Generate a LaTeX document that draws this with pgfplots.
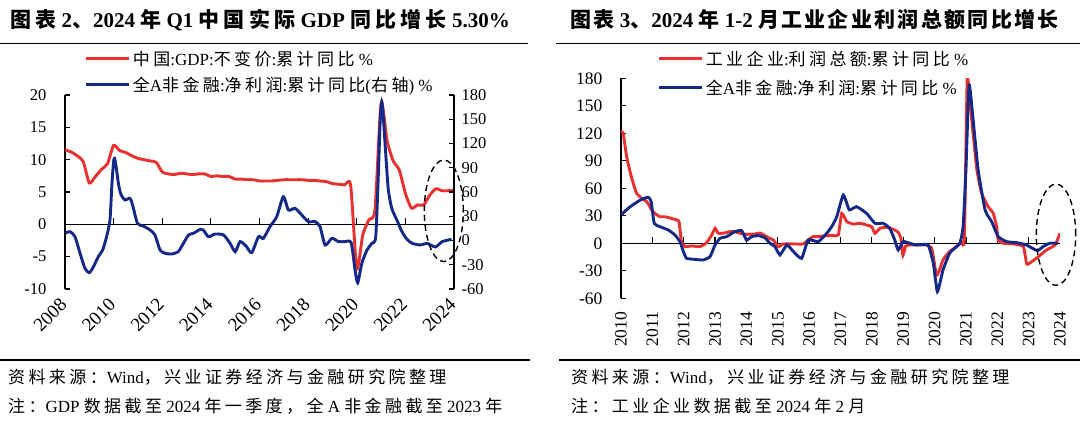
\documentclass[border=0pt]{standalone}
\usepackage{pgfplots}
\pgfplotsset{compat=1.18}
\usepackage{pgfplotstable}
\usepackage{fontspec}
\setmainfont{Liberation Serif}
\newfontfamily\cjk[LetterSpace=20]{Noto Sans CJK SC}
\newfontfamily\cjkt[LetterSpace=11]{Noto Sans CJK SC}
\definecolor{cred}{RGB}{232,48,46}
\definecolor{cblue}{RGB}{20,40,135}

% Left chart: China GDP cumulative y/y (left axis)
\pgfplotstableread{
x y
2008.00 11.5
2008.25 11.2
2008.50 10.6
2008.75 9.7
2009.00 6.4
2009.25 7.4
2009.50 8.5
2009.75 9.4
2010.00 12.2
2010.25 11.4
2010.50 11.1
2010.75 10.6
2011.00 10.2
2011.25 10.0
2011.50 9.8
2011.75 9.6
2012.00 8.1
2012.25 7.8
2012.50 7.7
2012.75 7.9
2013.00 7.8
2013.25 7.7
2013.50 7.8
2013.75 7.8
2014.00 7.4
2014.25 7.5
2014.50 7.4
2014.75 7.4
2015.00 7.0
2015.25 7.0
2015.50 6.9
2015.75 6.9
2016.00 6.7
2016.25 6.7
2016.50 6.7
2016.75 6.8
2017.00 6.9
2017.25 6.9
2017.50 6.9
2017.75 6.9
2018.00 6.8
2018.25 6.8
2018.50 6.7
2018.75 6.6
2019.00 6.3
2019.25 6.2
2019.50 6.1
2019.75 6.0
2020.00 -6.8
2020.25 -1.6
2020.50 0.7
2020.75 2.3
2021.00 18.7
2021.25 12.9
2021.50 9.8
2021.75 8.4
2022.00 4.8
2022.25 2.5
2022.50 3.0
2022.75 3.0
2023.00 4.5
2023.25 5.5
2023.50 5.2
2023.75 5.2
2024.00 5.3
}\gdpdata

% Left chart: all-A non-financial net profit cumulative y/y (right axis)
\pgfplotstableread{
x y
2008.00 8.9
2008.21 10.9
2008.41 4.7
2008.62 -15.9
2008.82 -34.4
2009.00 -39.8
2009.17 -32.4
2009.37 -20
2009.55 -11.8
2009.71 4.7
2009.85 25.4
2009.93 70
2010.00 98
2010.04 101.6
2010.10 92
2010.20 70
2010.30 57
2010.47 50.1
2010.67 52.2
2010.78 43.9
2010.98 21.2
2011.22 17.9
2011.50 13
2011.70 6.8
2011.91 -11.8
2012.12 -15.9
2012.39 -16.7
2012.66 -13.8
2012.87 -3.5
2013.08 6.8
2013.28 8.9
2013.56 13.8
2013.69 13
2013.90 4.7
2014.17 8
2014.52 6.8
2014.79 -3.5
2015.00 -13.8
2015.20 -1.4
2015.45 -7
2015.68 -15
2015.96 4.7
2016.16 2.7
2016.43 17.1
2016.71 29.5
2016.98 54.2
2017.19 37.7
2017.46 39.8
2017.74 31.5
2018.01 23.3
2018.29 23.3
2018.49 17.1
2018.70 -5.6
2018.98 2.7
2019.25 -1.4
2019.52 -1.4
2019.77 -2.7
2019.93 -36.5
2020.04 -52.2
2020.21 -28.2
2020.42 -11.8
2020.62 -3.5
2020.78 4.7
2020.89 83
2020.96 145
2021.03 171.8
2021.10 149
2021.20 103.7
2021.30 62.5
2021.44 39.8
2021.65 25.4
2021.86 10.9
2022.07 1.4
2022.28 -3.5
2022.62 -5.6
2022.89 -3.5
2023.23 -8
2023.51 -1.4
2023.65 -0.2
2023.90 1.5
}\nfadata

% Right chart: industrial enterprises profit cumulative y/y
\pgfplotstableread{
x y
2010.00 121.8
2010.07 120
2010.18 94.5
2010.29 78
2010.39 65.5
2010.50 54.5
2010.66 49
2010.82 45.5
2010.98 36.4
2011.08 32.7
2011.24 29
2011.40 29
2011.60 27.3
2011.77 25.5
2011.85 23.6
2011.93 1.8
2012.04 -3.6
2012.25 -2.9
2012.52 -3.6
2012.73 0.7
2012.89 9
2013.00 16.4
2013.10 11
2013.26 11
2013.47 12.7
2013.63 12.7
2013.79 11
2014.00 9.8
2014.27 10.2
2014.43 11.2
2014.59 8.4
2014.70 6
2014.86 3.6
2015.02 -3.6
2015.18 -0.7
2015.50 -0.7
2015.81 -0.7
2015.97 3.6
2016.13 7.3
2016.35 7.3
2016.56 8.4
2016.77 8.4
2016.93 9.1
2017.04 32.7
2017.20 23.6
2017.41 21
2017.62 21.8
2017.83 20
2017.99 18.2
2018.10 10.9
2018.26 16.4
2018.47 17.5
2018.68 15.3
2018.84 12
2018.93 5
2018.99 -13
2019.08 -2.9
2019.21 -1.8
2019.42 -1.8
2019.73 -1.8
2019.90 -5
2019.96 -14.5
2020.06 -35
2020.16 -29
2020.27 -18
2020.48 -9
2020.70 -3.6
2020.85 1.8
2020.95 5
2021.04 178.9
2021.13 152.7
2021.24 116
2021.35 80
2021.50 54.5
2021.71 40
2021.87 32.7
2021.98 18.2
2022.03 3.6
2022.19 0
2022.51 -0.7
2022.83 -3.6
2022.94 -22.6
2023.10 -20
2023.31 -14.6
2023.57 -7.3
2023.84 -1.9
2024.00 10.9
}\inddata

% Right chart: all-A non-financial net profit cumulative y/y
\pgfplotstableread{
x y
2010.00 30.9
2010.23 38.2
2010.45 43.6
2010.66 48
2010.87 50.2
2010.96 45.5
2011.06 21.8
2011.24 18.2
2011.51 14.5
2011.72 9.1
2011.88 1.8
2011.99 -9.1
2012.09 -16.4
2012.36 -17.5
2012.62 -18.2
2012.84 -14.5
2013.00 -1.8
2013.16 5.5
2013.37 7.3
2013.63 12.7
2013.85 13.8
2014.00 3.6
2014.17 7.3
2014.38 8.4
2014.59 6
2014.75 0
2014.91 -3.6
2015.07 -12.7
2015.29 -1.8
2015.50 -9.1
2015.76 -16.4
2015.97 3.6
2016.29 1.8
2016.56 10.9
2016.72 18.2
2016.88 29
2017.09 52.7
2017.28 36.4
2017.51 40
2017.83 32.7
2018.10 21.8
2018.36 21.8
2018.57 16.4
2018.73 3.6
2018.84 -7.3
2019.00 1.8
2019.21 0
2019.42 -1.8
2019.79 -1.8
2019.96 -21.8
2020.09 -52.7
2020.27 -29
2020.48 -10.9
2020.70 -3.6
2020.81 0
2020.91 18.2
2021.00 80
2021.10 172.7
2021.23 134.5
2021.39 80
2021.61 36.4
2021.82 23.6
2022.03 7.3
2022.30 1.8
2022.61 0.7
2022.93 -1.8
2023.27 -8
2023.46 -3.6
2023.67 0
2023.95 0
}\nfbdata

\pgfplotsset{
  base/.style={
    scale only axis,
    tick align=inside,
    major tick length=5pt,
    axis line style={line width=1.3pt, black},
    every tick/.append style={line width=1.2pt, black},
    legend cell align=left,
    legend image code/.code={\draw[##1] (0pt,0pt) -- (43pt,0pt);},
  },
  redline/.style={color=cred, line width=2.9pt, smooth, tension=0.4},
  blueline/.style={color=cblue, line width=2.9pt, smooth, tension=0.4},
}

\begin{document}
\begin{tikzpicture}
\useasboundingbox (0pt,0pt) rectangle (1080pt,-422pt);
\fill[white] (0pt,0pt) rectangle (1080pt,-422pt);

% ---------------- titles and rules ----------------
\node[anchor=base west, inner sep=0pt, font=\fontsize{21}{24}\selectfont\bfseries] at (10pt,-28pt)
  {{\cjk 图表} 2{\cjk 、}2024 {\cjk 年} Q1 {\cjk 中国实际} GDP {\cjk 同比增长} 5.30\%};
\node[anchor=base west, inner sep=0pt, font=\fontsize{21}{24}\selectfont\bfseries] at (570pt,-28pt)
  {{\cjkt 图表} 3{\cjkt 、}2024 {\cjkt 年} 1-2 {\cjkt 月工业企业利润总额同比增长}};
\draw[line width=1.5pt] (0pt,-43.3pt) -- (528pt,-43.3pt);
\draw[line width=1.5pt] (556pt,-43.3pt) -- (1080pt,-43.3pt);
\draw[line width=1.2pt] (0pt,-360pt) -- (530pt,-360pt);
\draw[line width=1.2pt] (559pt,-360pt) -- (1080pt,-360pt);

\node[anchor=base west, inner sep=0pt, font=\fontsize{17}{19}\selectfont] at (8pt,-384pt)
  {{\cjk 资料来源：}Wind{\cjk ，兴业证券经济与金融研究院整理}};
\node[anchor=base west, inner sep=0pt, font=\fontsize{17}{19}\selectfont] at (8pt,-412pt)
  {{\cjk 注：}GDP {\cjk 数据截至} 2024 {\cjk 年一季度，全} A {\cjk 非金融截至} 2023 {\cjk 年}};
\node[anchor=base west, inner sep=0pt, font=\fontsize{17}{19}\selectfont] at (571pt,-384pt)
  {{\cjk 资料来源：}Wind{\cjk ，兴业证券经济与金融研究院整理}};
\node[anchor=base west, inner sep=0pt, font=\fontsize{17}{19}\selectfont] at (571pt,-412pt)
  {{\cjk 注：工业企业数据截至} 2024 {\cjk 年} 2 {\cjk 月}};

% ---------------- left chart ----------------
\begin{axis}[base,
  at={(65pt,-289pt)}, anchor=south west,
  width=389pt, height=194pt,
  xmin=2008, xmax=2024, ymin=-10, ymax=20,
  axis y line*=left, axis x line*=bottom,
  x axis line style={draw=none},
  xtick={2008,2010,2012,2014,2016,2018,2020,2022,2024},
  xticklabels={2008,2010,2012,2014,2016,2018,2020,2022,2024},
  major x tick style={draw=none},
  xticklabel style={xshift=-6pt, yshift=-3pt, rotate=45, anchor=north east, font=\fontsize{19}{21}\selectfont},
  ytick={-10,-5,0,5,10,15,20},
  yticklabels={-10,-5,0,5,10,15,20},
  yticklabel style={font=\fontsize{16.5}{18}\selectfont, xshift=-15pt},
]
\draw[black, line width=1.2pt] (axis cs:2008,0) -- (axis cs:2024,0);
\draw[black, line width=1.2pt] (axis cs:2010,0) -- ++(0pt,6pt);
\draw[black, line width=1.2pt] (axis cs:2012,0) -- ++(0pt,6pt);
\draw[black, line width=1.2pt] (axis cs:2014,0) -- ++(0pt,6pt);
\draw[black, line width=1.2pt] (axis cs:2016,0) -- ++(0pt,6pt);
\draw[black, line width=1.2pt] (axis cs:2018,0) -- ++(0pt,6pt);
\draw[black, line width=1.2pt] (axis cs:2020,0) -- ++(0pt,6pt);
\draw[black, line width=1.2pt] (axis cs:2022,0) -- ++(0pt,6pt);
\addplot[redline] table[x=x,y=y] {\gdpdata};
\end{axis}

\begin{axis}[base,
  at={(65pt,-289pt)}, anchor=south west,
  width=389pt, height=194pt,
  xmin=2008, xmax=2024, ymin=-60, ymax=180,
  axis y line*=right, hide x axis,
  ytick={-60,-30,0,30,60,90,120,150,180},
  yticklabels={-60,-30,0,30,60,90,120,150,180},
  yticklabel style={font=\fontsize{16.5}{18}\selectfont, xshift=4pt},
  legend style={draw=none, fill=none, at={(axis description cs:0.051,1.24)}, anchor=north west,
    font=\fontsize{17}{19}\selectfont, row sep=6pt, inner sep=0pt,
    /tikz/every even column/.append style={column sep=4pt}},
]
\addlegendimage{redline}
\addlegendentry{{\cjk 中国}:GDP:{\cjk 不变价}:{\cjk 累计同比} \%}
\addplot[blueline] table[x=x,y=y] {\nfadata};
\addlegendentry{{\cjk 全}A{\cjk 非金融}:{\cjk 净利润}:{\cjk 累计同比}({\cjk 右轴}) \%}
\end{axis}

\draw[black, line width=1.4pt, dash pattern=on 6pt off 4pt] (443.8pt,-210.8pt) ellipse [x radius=19.5pt, y radius=50.8pt];

% ---------------- right chart ----------------
\begin{axis}[base,
  at={(621pt,-298.3pt)}, anchor=south west,
  width=439pt, height=220pt,
  xmin=2010, xmax=2024, ymin=-60, ymax=180,
  axis y line*=left, axis x line*=bottom,
  x axis line style={draw=none},
  xtick={2010,2011,2012,2013,2014,2015,2016,2017,2018,2019,2020,2021,2022,2023,2024},
  xticklabels={2010,2011,2012,2013,2014,2015,2016,2017,2018,2019,2020,2021,2022,2023,2024},
  major x tick style={draw=none},
  xticklabel style={yshift=-10pt, rotate=90, anchor=east, font=\fontsize{17.5}{19}\selectfont},
  ytick={-60,-30,0,30,60,90,120,150,180},
  yticklabels={-60,-30,0,30,60,90,120,150,180},
  yticklabel style={font=\fontsize{17.5}{19}\selectfont, xshift=-15pt},
  legend style={draw=none, fill=none, at={(axis description cs:0.0836,1.135)}, anchor=north west,
    font=\fontsize{17}{19}\selectfont, row sep=9pt, inner sep=0pt,
    /tikz/every even column/.append style={column sep=4pt}},
]
\draw[black, line width=1.2pt] (axis cs:2010,0) -- (axis cs:2024,0);
\draw[black, line width=1.2pt] (axis cs:2011,0) -- ++(0pt,6pt);
\draw[black, line width=1.2pt] (axis cs:2012,0) -- ++(0pt,6pt);
\draw[black, line width=1.2pt] (axis cs:2013,0) -- ++(0pt,6pt);
\draw[black, line width=1.2pt] (axis cs:2014,0) -- ++(0pt,6pt);
\draw[black, line width=1.2pt] (axis cs:2015,0) -- ++(0pt,6pt);
\draw[black, line width=1.2pt] (axis cs:2016,0) -- ++(0pt,6pt);
\draw[black, line width=1.2pt] (axis cs:2017,0) -- ++(0pt,6pt);
\draw[black, line width=1.2pt] (axis cs:2018,0) -- ++(0pt,6pt);
\draw[black, line width=1.2pt] (axis cs:2019,0) -- ++(0pt,6pt);
\draw[black, line width=1.2pt] (axis cs:2020,0) -- ++(0pt,6pt);
\draw[black, line width=1.2pt] (axis cs:2021,0) -- ++(0pt,6pt);
\draw[black, line width=1.2pt] (axis cs:2022,0) -- ++(0pt,6pt);
\draw[black, line width=1.2pt] (axis cs:2023,0) -- ++(0pt,6pt);
\addplot[redline, tension=0.3] table[x=x,y=y] {\inddata};
\addlegendentry{{\cjk 工业企业}:{\cjk 利润总额}:{\cjk 累计同比} \%}
\addplot[blueline, tension=0.3] table[x=x,y=y] {\nfbdata};
\addlegendentry{{\cjk 全}A{\cjk 非金融}:{\cjk 净利润}:{\cjk 累计同比} \%}
\end{axis}

\draw[black, line width=1.4pt, dash pattern=on 6pt off 4pt] (1056pt,-234.7pt) ellipse [x radius=19.7pt, y radius=50.7pt];
\end{tikzpicture}
\end{document}
